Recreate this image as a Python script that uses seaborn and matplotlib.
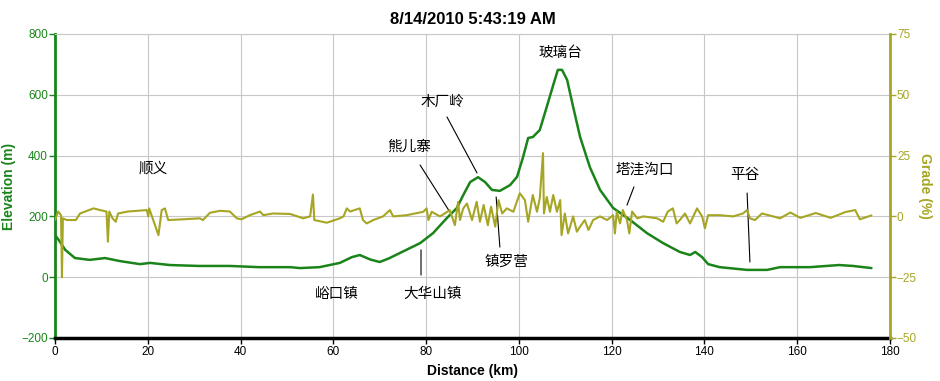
import matplotlib
matplotlib.use("Agg")
import matplotlib.pyplot as plt
import seaborn as sns
import pandas as pd

title = "8/14/2010 5:43:19 AM"

# Elevation profile (distance km, elevation m)
elev_dist = [0, 1, 2.2, 4.3, 7.5, 10.8, 14, 18.3, 20.5, 24.8, 31, 37.7, 44, 50.7, 52.8,
             57, 61.4, 64, 65.7, 68, 70, 72, 74.4, 78.7, 81.5, 84.5, 86.6, 88, 89.5, 91.2,
             92.7, 94.2, 95.9, 98.1, 99.6, 100.9, 102, 103, 104.5, 106, 107.4, 108.4, 109.3,
             110.4, 111.7, 113.2, 115.3, 117.5, 120.3, 124, 127.6, 131.1, 134.7, 136.9, 138,
             139.5, 140.8, 143.3, 149.2, 153.5, 156.3, 162.7, 169, 172, 176]
elev_m = [139, 118, 90, 63, 57, 63, 53, 43, 47, 40, 37, 37, 33, 33, 30,
          33, 47, 66, 73, 58, 50, 62, 80, 112, 145, 195, 227, 270, 313, 329,
          313, 287, 284, 303, 330, 395, 458, 461, 484, 560, 632, 682, 682,
          649, 560, 461, 362, 287, 228, 188, 145, 112, 83, 73, 83,
          66, 43, 33, 24, 24, 33, 33, 40, 37, 30]

# Grade (distance km, grade %)
grade_dist = [0, 0.7, 1.3, 1.5, 1.7, 2.5, 4.5, 5.4, 8.3, 9.7, 11.1, 11.4, 11.7, 12.4, 13.1,
              13.6, 15.7, 19.8, 20.1, 20.3, 22.3, 23, 23.7, 24.4, 27.6, 31.2, 31.9, 33.4,
              35.6, 37.7, 39.2, 40.2, 42, 44.2, 44.9, 47, 50.7, 53.5, 55, 55.6, 55.9, 58.6,
              61.4, 62.2, 62.9, 63.6, 65.7, 66.4, 67.2, 68.6, 70.7, 72.2, 72.9, 75.8, 79.4,
              80.1, 80.5, 81.2, 83, 84, 85.1, 86.2, 86.9, 87.3, 88, 88.8, 89.9, 90.9, 91.6,
              92.4, 93.3, 94, 94.9, 95.6, 96.4, 97.4, 98.8, 100.2, 101.3, 102, 103, 103.9,
              104.5, 105.2, 105.4, 106, 106.7, 107.4, 108.2, 108.9, 109.2, 109.9, 110.6,
              111.7, 112.5, 113.2, 114.2, 115, 116, 117.5, 119, 120.3, 120.7, 121.1, 121.8,
              122.4, 123.3, 123.8, 124.4, 125.5, 126.8, 129.8, 131.1, 132.1, 133.2, 134,
              134.7, 135.8, 136.9, 138.4, 139.5, 140.1, 140.8, 143.3, 146.2, 148.3, 149.2,
              149.8, 150.9, 152.4, 154.8, 156.3, 158.5, 160.7, 164, 167.2, 170.4, 172.5,
              173.5, 176]
grade_pct = [-1.5, 2, 0.5, -25, -0.8, -1.5, -1.5, 1.2, 3.3, 2.6, 2, -10.4, 2, -0.8, -2.2,
             1.2, 2, 2.6, 0, 3.3, -7.7, 2.6, 3.3, -1.5, -1.2, -0.8, -1.5, 1.5,
             2.3, 2, -0.8, -1.2, 0.5, 2, 0.5, 1.2, 1, -0.8, 0, 9, -1.5, -2.6,
             -0.8, 0, 3.3, 2, 3.3, -1.5, -2.9, -1.5, 0, 2.6, 0, 0.5, 1.9,
             3.3, -1.5, 1.9, 0, 1.2, 2.6, -3.6, 6, -1.5, 3.3, 5.3, -1.5, 6, -2.2,
             4.7, -3.6, 4, -4.2, 6.7, 1.2, 3.3, 1.9, 9.5, 6.7, -2.2, 8.8, 1.9,
             7.4, 26, 1.2, 8, 1.9, 8.8, 1.9, 6.7, -7.7, 1.2, -7,
             0, -6.3, -4.2, -1.5, -5.6, -1.5, 0, -1.5, 0.5, -7, 2, -2.9,
             2.6, -1.5, -7, 2, -0.8, 0, -0.8, -2.2, 2, 3.3, -2.9,
             -1.5, 1.2, -2.9, 3.3, 0, -4.9, 0.5, 0.5, 0, 1.2, 2.6,
             -0.8, -1.5, 1.2, 0, -0.8, 1.6, -0.6, 1.4, -0.6, 1.8, 2.6,
             -1.2, 0.4]

# Place labels (text position in distance km / elevation m)
place_names = ["顺义", "峪口镇", "大华山镇", "熊儿寨", "木厂岭", "镇罗营", "玻璃台", "塔洼沟口", "平谷"]
place_dist = [21.1, 60.8, 81.5, 76.3, 83.6, 97.4, 108.9, 127.2, 148.7]
place_elev = [359, -55, -55, 428, 576, 50, 737, 353, 336]

# Pointer lines (from, to) for labels
pointer_from_dist = [78.9, 78.7, 84.5, 95.1, 124.8, 149.2]
pointer_from_elev = [90, 369, 527, 264, 297, 277]
pointer_to_dist = [78.9, 85.1, 90.97, 95.9, 123.3, 149.8]
pointer_to_elev = [7, 215, 343, 99, 237, 50]

x_ticks = [0, 20, 40, 60, 80, 100, 120, 140, 160, 180]
elev_ticks = [-200, 0, 200, 400, 600, 800]
grade_ticks = [-50, -25, 0, 25, 50, 75]

green = "#1a841a"
olive = "#a6a624"

sns.set_style("white")
plt.rcParams['font.family'] = ['Liberation Sans', 'DejaVu Sans']
plt.rcParams['text.color'] = 'black'

fig = plt.figure(figsize=(9.4, 3.81), dpi=100)
ax = fig.add_axes([55 / 940, 43 / 381, 835 / 940, 304 / 381])
ax2 = ax.twinx()

elev_df = pd.DataFrame({"Distance": elev_dist, "Elevation": elev_m})
grade_df = pd.DataFrame({"Distance": grade_dist, "Grade": grade_pct})

sns.lineplot(data=elev_df, x="Distance", y="Elevation", ax=ax, color=green, lw=1.8)
sns.lineplot(data=grade_df, x="Distance", y="Grade", ax=ax2, color=olive, lw=1.5)

ax.set_xlim(0, 180)
ax.set_ylim(-200, 800)
ax2.set_ylim(-50, 75)
ax.set_xticks(x_ticks)
ax.set_yticks(elev_ticks)
ax2.set_yticks(grade_ticks)
ax.grid(True, color="#c8c8c8", lw=0.8)
ax2.grid(False)

for s in ["left", "top", "bottom"]:
    ax2.spines[s].set_visible(False)
ax.spines["right"].set_visible(False)
ax.spines["left"].set_color(green)
ax.spines["left"].set_linewidth(2)
ax2.spines["right"].set_color(olive)
ax2.spines["right"].set_linewidth(2)
ax.spines["bottom"].set_color("black")
ax.spines["bottom"].set_linewidth(2.5)
ax.spines["top"].set_color("#c8c8c8")
ax.spines["top"].set_linewidth(0.8)

ax.tick_params(axis="y", colors=green, labelsize=8.5, length=4, width=1, pad=1, direction="out", left=True)
ax.tick_params(axis="x", colors="black", labelsize=8.5, length=4, width=1, pad=2, direction="out", bottom=True)
ax2.tick_params(axis="y", colors=olive, labelsize=8.5, length=4, width=1, pad=1, direction="out", right=True)
for lab in ax.get_xticklabels() + ax.get_yticklabels() + ax2.get_yticklabels():
    lab.set_fontstretch("condensed")

ax.set_xlabel("Distance (km)", fontsize=10, fontweight="bold", color="black", labelpad=4)
ax.set_ylabel("Elevation (m)", fontsize=10, fontweight="bold", color=green)
ax.yaxis.set_label_coords(-0.047, 0.5)
ax2.set_ylabel("Grade (%)", fontsize=10, fontweight="bold", color=olive, rotation=270, va="center")
ax2.yaxis.set_label_coords(1.042, 0.5)
ax.set_title(title, fontsize=12, fontweight="bold", pad=7, color="black")

for name, d, e in zip(place_names, place_dist, place_elev):
    ax.text(d, e, name, ha="center", va="center", fontsize=10.5,
            family=["Noto Sans CJK SC", "DejaVu Sans"], color="black")
for d0, e0, d1, e1 in zip(pointer_from_dist, pointer_from_elev, pointer_to_dist, pointer_to_elev):
    ax.annotate("", xy=(d1, e1), xytext=(d0, e0),
                arrowprops=dict(arrowstyle="-", color="black", lw=0.8, shrinkA=0, shrinkB=0))

fig.savefig("out.png", dpi=100)
